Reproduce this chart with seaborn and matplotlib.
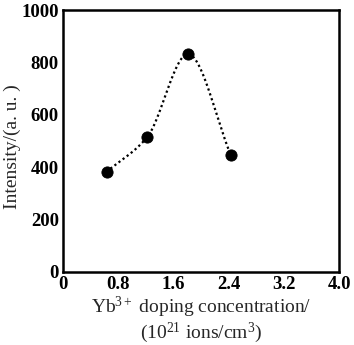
import numpy as np
import pandas as pd
import seaborn as sns
import matplotlib.pyplot as plt

sns.set_style('white')
plt.rcParams['font.family'] = ['Liberation Serif', 'DejaVu Serif']
plt.rcParams['mathtext.fontset'] = 'custom'
plt.rcParams['mathtext.rm'] = 'Liberation Serif'
plt.rcParams['mathtext.it'] = 'Liberation Serif:italic'

# 数据
conc = [0.63, 1.22, 1.81, 2.43]
intensity = [382, 515, 832, 447]
xticks = [0, 0.8, 1.6, 2.4, 3.2, 4.0]
xticklabels = ['0', '0.8', '1.6', '2.4', '3.2', '4.0']
yticks = [0, 200, 400, 600, 800, 1000]

df = pd.DataFrame({'conc': conc, 'intensity': intensity})


# 分段三次 Hermite (PCHIP) 平滑曲线
def pchip(x, y, n=200):
    x = np.asarray(x, float)
    y = np.asarray(y, float)
    h = np.diff(x)
    d = np.diff(y) / h
    m = np.zeros_like(y)
    for i in range(1, len(x) - 1):
        if d[i - 1] * d[i] > 0:
            w1 = 2 * h[i] + h[i - 1]
            w2 = h[i] + 2 * h[i - 1]
            m[i] = (w1 + w2) / (w1 / d[i - 1] + w2 / d[i])
    m[0] = d[0]
    m[-1] = d[-1]
    xs = np.linspace(x[0], x[-1], n)
    ys = np.empty_like(xs)
    for k, xv in enumerate(xs):
        i = min(np.searchsorted(x, xv, side='right') - 1, len(x) - 2)
        t = (xv - x[i]) / h[i]
        h00 = 2 * t ** 3 - 3 * t ** 2 + 1
        h10 = t ** 3 - 2 * t ** 2 + t
        h01 = -2 * t ** 3 + 3 * t ** 2
        h11 = t ** 3 - t ** 2
        ys[k] = h00 * y[i] + h10 * h[i] * m[i] + h01 * y[i + 1] + h11 * h[i] * m[i + 1]
    return xs, ys


fig = plt.figure(figsize=(3.54, 3.45), dpi=100)
ax = fig.add_axes([0.178, 0.2116, 0.78, 0.7594])

xs, ys = pchip(conc, intensity)
smooth = pd.DataFrame({'conc': xs, 'intensity': ys})
sns.lineplot(data=smooth, x='conc', y='intensity', color='black',
             linestyle=(0, (1, 1.3)), linewidth=1.6, ax=ax)
sns.scatterplot(data=df, x='conc', y='intensity', color='black', s=65,
                edgecolor='black', zorder=3, ax=ax)

ax.set_xlim(0, 4.0)
ax.set_ylim(0, 1000)
ax.set_xticks(xticks)
ax.set_xticklabels(xticklabels)
ax.set_yticks(yticks)
ax.tick_params(direction='in', length=4, width=1.5, labelsize=13.5, pad=3,
               colors='black')
for lab in ax.get_yticklabels() + ax.get_xticklabels():
    lab.set_fontweight('bold')
for s in ax.spines.values():
    s.set_linewidth(1.8)
    s.set_color('black')

ax.set_ylabel('Intensity/(a. u. )', fontsize=14)
ax.yaxis.set_label_coords(-0.152, 0.48)
ax.set_xlabel('Yb$^{3+}$ doping concentration/\n(10$^{21}$ ions/cm$^{3}$)',
              fontsize=14, labelpad=1, linespacing=1.05)

plt.savefig('out.png', dpi=100)
